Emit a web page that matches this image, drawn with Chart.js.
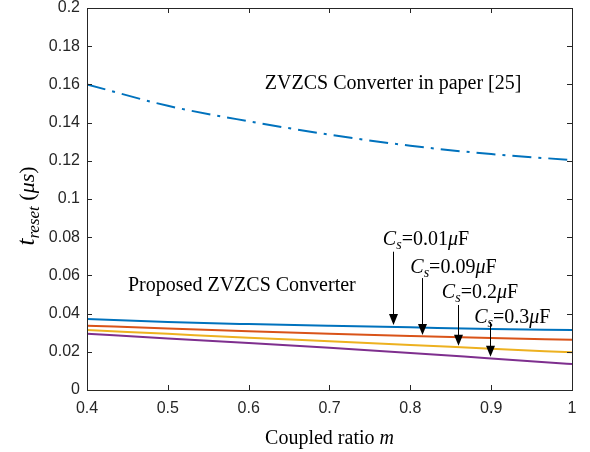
<!DOCTYPE html>
<html>
<head>
<meta charset="utf-8">
<script src="https://cdn.jsdelivr.net/npm/chart.js@4.4.1/dist/chart.umd.min.js"></script>
<style>
  html, body { margin: 0; padding: 0; background: #fff; }
  #wrap { width: 590px; height: 452px; }
</style>
</head>
<body>
<div id="wrap"><canvas id="mycanvas" width="590" height="452"></canvas></div>
<script>
// coupled ratio m
var mValues = [0.4, 0.5, 0.6, 0.7, 0.8, 0.9, 1.0];
// t_reset (us) of converter in paper [25]
var paper25 = [0.160, 0.1488, 0.1407, 0.1337, 0.1279, 0.1235, 0.1204];
// proposed converter, for each Cs
var cs001 = [0.0372, 0.0356, 0.0345, 0.0336, 0.0328, 0.0320, 0.0314];
var cs009 = [0.0337, 0.0322, 0.0308, 0.0295, 0.0283, 0.0272, 0.0263];
var cs02  = [0.0314, 0.0294, 0.0274, 0.0255, 0.0236, 0.0216, 0.0197];
var cs03  = [0.0295, 0.0270, 0.0246, 0.0221, 0.0194, 0.0165, 0.0136];
var csNames = ['0.01', '0.09', '0.2', '0.3'];

var xTicks = [0.4, 0.5, 0.6, 0.7, 0.8, 0.9, 1];
var yTicks = [0, 0.02, 0.04, 0.06, 0.08, 0.1, 0.12, 0.14, 0.16, 0.18, 0.2];

var SERIF = '"Liberation Serif", "Times New Roman", serif';
var SANS = '"Liberation Sans", Arial, sans-serif';

function pts(ys) {
    var out = [];
    for (var i in mValues) {
        out.push({x: mValues[i], y: ys[i]});
    }
    return out;
}

// label / arrow places, in data units
var labelPos = [[0.766, 0.0759], [0.800, 0.0613], [0.839, 0.0482], [0.879, 0.0351]];
var arrowPos = [[0.778, 0.0724, 0.0340], [0.815, 0.0586, 0.0288], [0.859, 0.0445, 0.0232], [0.899, 0.0356, 0.0174]];

// draws pieces of text one after the other
function richText(ctx, parts, x, y) {
    var cx = x;
    for (var i in parts) {
        var p = parts[i];
        ctx.font = (p.italic ? 'italic ' : '') + p.size + 'px ' + SERIF;
        ctx.fillText(p.t, cx, y + (p.dy || 0));
        cx += ctx.measureText(p.t).width;
    }
    return cx - x;
}
function richWidth(ctx, parts) {
    var w = 0;
    for (var i in parts) {
        var p = parts[i];
        ctx.font = (p.italic ? 'italic ' : '') + p.size + 'px ' + SERIF;
        w += ctx.measureText(p.t).width;
    }
    return w;
}

var extras = {
    id: 'extras',
    afterDraw: function(chart) {
        var ctx = chart.ctx;
        var a = chart.chartArea;
        var xs = chart.scales.x, ys = chart.scales.y;
        ctx.save();

        // box
        ctx.strokeStyle = '#262626';
        ctx.lineWidth = 1;
        ctx.strokeRect(Math.round(a.left) + 0.5, Math.round(a.top) + 0.5, Math.round(a.right - a.left), Math.round(a.bottom - a.top));

        // inner ticks on all four sides
        ctx.beginPath();
        for (var i in xTicks) {
            var px = Math.round(xs.getPixelForValue(xTicks[i])) + 0.5;
            ctx.moveTo(px, a.bottom); ctx.lineTo(px, a.bottom - 5);
            ctx.moveTo(px, a.top); ctx.lineTo(px, a.top + 5);
        }
        for (var j in yTicks) {
            var py = Math.round(ys.getPixelForValue(yTicks[j])) + 0.5;
            ctx.moveTo(a.left, py); ctx.lineTo(a.left + 5, py);
            ctx.moveTo(a.right, py); ctx.lineTo(a.right - 5, py);
        }
        ctx.stroke();

        ctx.fillStyle = '#000';
        ctx.textBaseline = 'alphabetic';
        ctx.textAlign = 'left';

        // text labels
        ctx.font = '20px ' + SERIF;
        ctx.fillText('ZVZCS Converter in paper [25]', xs.getPixelForValue(0.620), ys.getPixelForValue(0.1576));
        ctx.fillText('Proposed ZVZCS Converter', xs.getPixelForValue(0.4507), ys.getPixelForValue(0.052));

        for (var k in csNames) {
            richText(ctx, [
                {t: 'C', italic: true, size: 20},
                {t: 's', italic: true, size: 14, dy: 4},
                {t: '=' + csNames[k], size: 20},
                {t: '\u03bc', italic: true, size: 20},
                {t: 'F', size: 20}
            ], xs.getPixelForValue(labelPos[k][0]), ys.getPixelForValue(labelPos[k][1]));

            var ax = Math.round(xs.getPixelForValue(arrowPos[k][0])) + 0.5;
            var y0 = ys.getPixelForValue(arrowPos[k][1]);
            var y1 = ys.getPixelForValue(arrowPos[k][2]);
            ctx.strokeStyle = '#000';
            ctx.beginPath();
            ctx.moveTo(ax, y0); ctx.lineTo(ax, y1 - 8);
            ctx.stroke();
            ctx.beginPath();
            ctx.moveTo(ax, y1);
            ctx.lineTo(ax - 4.5, y1 - 11);
            ctx.lineTo(ax + 4.5, y1 - 11);
            ctx.closePath();
            ctx.fill();
        }

        // x title
        var xt = [{t: 'Coupled ratio ', size: 20}, {t: 'm', italic: true, size: 20}];
        var xw = richWidth(ctx, xt);
        richText(ctx, xt, (a.left + a.right) / 2 - xw / 2, 444);

        // y title
        var yt = [
            {t: 't', italic: true, size: 25},
            {t: 'reset', italic: true, size: 17, dy: 5},
            {t: ' (', size: 22},
            {t: '\u03bcs', italic: true, size: 22},
            {t: ')', size: 22}
        ];
        var yw = richWidth(ctx, yt);
        ctx.translate(34, 206);
        ctx.rotate(-Math.PI / 2);
        richText(ctx, yt, -yw / 2, 0);

        ctx.restore();
    }
};

var chartdata = {
    datasets: [
        {
            label: 'paper [25]',
            data: pts(paper25),
            borderColor: '#0072BD',
            borderWidth: 2,
            borderDash: [19, 7, 3, 7],
            cubicInterpolationMode: 'monotone'
        },
        { label: 'Cs=0.01', data: pts(cs001), borderColor: '#0072BD', borderWidth: 2, cubicInterpolationMode: 'monotone' },
        { label: 'Cs=0.09', data: pts(cs009), borderColor: '#D95319', borderWidth: 2, cubicInterpolationMode: 'monotone' },
        { label: 'Cs=0.2', data: pts(cs02), borderColor: '#EDB120', borderWidth: 2, cubicInterpolationMode: 'monotone' },
        { label: 'Cs=0.3', data: pts(cs03), borderColor: '#7E2F8E', borderWidth: 2, cubicInterpolationMode: 'monotone' }
    ]
};

var ctx = document.getElementById('mycanvas');

var lineGraph = new Chart(ctx, {
    type: 'line',
    data: chartdata,
    options: {
        responsive: false,
        animation: false,
        layout: { padding: { left: 0, right: 18, top: 0, bottom: 0 } },
        elements: { point: { radius: 0 } },
        plugins: { legend: { display: false }, tooltip: { enabled: false } },
        scales: {
            x: {
                type: 'linear',
                min: 0.4,
                max: 1,
                afterBuildTicks: function(s) { s.ticks = xTicks.map(function(v) { return {value: v}; }); },
                afterFit: function(s) { s.height = 62; },
                grid: { display: false, drawTicks: false },
                border: { display: false },
                ticks: {
                    color: '#262626',
                    font: { family: SANS, size: 16 },
                    padding: 9,
                    maxRotation: 0,
                    callback: function(v) { return String(+v.toFixed(1)); }
                }
            },
            y: {
                min: 0,
                max: 0.2,
                afterBuildTicks: function(s) { s.ticks = yTicks.map(function(v) { return {value: v}; }); },
                afterFit: function(s) { s.width = 87; s.paddingTop = 8; },
                grid: { display: false, drawTicks: false },
                border: { display: false },
                ticks: {
                    color: '#262626',
                    font: { family: SANS, size: 16 },
                    padding: 7,
                    callback: function(v) { return String(+v.toFixed(2)); }
                }
            }
        }
    },
    plugins: [extras]
});
</script>
</body>
</html>
